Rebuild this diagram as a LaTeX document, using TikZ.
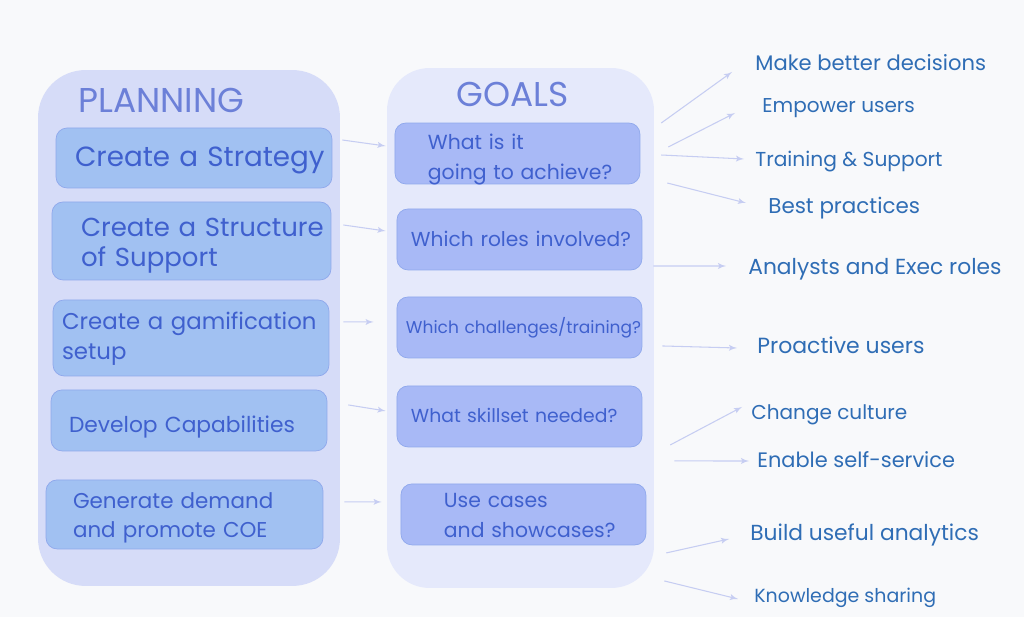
\documentclass[tikz,border=0pt]{standalone}
\usepackage{fontspec}
\setmainfont{Poppins}
\usetikzlibrary{arrows,positioning}
\definecolor{pagebg}{HTML}{F8F9FB}
\definecolor{planfill}{HTML}{D6DCF8}
\definecolor{goalfill}{HTML}{E5E9FB}
\definecolor{planbox}{HTML}{A1C1F2}
\definecolor{goalbox}{HTML}{A8B9F6}
\definecolor{boxline}{HTML}{8FA8EC}
\definecolor{boxtext}{HTML}{3F60CE}
\definecolor{titletext}{HTML}{6C80D8}
\definecolor{outtext}{HTML}{2F6DB5}
\definecolor{linkline}{HTML}{C6CDF2}
\newcommand{\padded}[3]{\raisebox{\dimexpr-#2-0.25em\relax}[0pt][0pt]{\begin{tabular}{@{\hspace*{#1}}l@{}}#3\end{tabular}}}

\begin{document}
\begin{tikzpicture}[
    x=0.02cm,
    y=-0.02cm,
    node distance=2cm,
    >=latex',
    fs/.style={
		font=\fontsize{#1}{17}\selectfont
	},
    panel/.style={
		rectangle,
		rounded corners=0.95cm,
		inner sep=0pt
	},
	order/.style={
		rectangle,
		rounded corners=0.22cm,
		draw=boxline,
		line width=0.4pt,
		inner sep=0pt,
		text=boxtext,
		align=left
	},
	plan/.style={
		order,
		fill=planbox
	},
	goal/.style={
		order,
		fill=goalbox,
		text width=4.9cm,
		minimum height=1.22cm
	},
	outcome/.style={
		anchor=west,
		inner sep=0pt,
		text=outtext,
		text height=0.4cm,
		text depth=0.06cm
	},
	title/.style={
		inner sep=0pt,
		text=titletext,
		fs=19.6
	},
	link/.style={
		draw=linkline,
		line width=0.6pt,
		->
	}
  ]
    % page and the two big panels
  \fill [pagebg] (0,0) rectangle (1024,617);
  \useasboundingbox (0,0) rectangle (1024,617);

  \node [panel, fill=planfill, minimum width=6.04cm, minimum height=10.32cm] (planning) at (189,328) {};
  \node [panel, fill=goalfill, minimum width=5.34cm, minimum height=10.4cm, rounded corners=0.85cm] (goals) at (520.5,328) {};

  \node [title] (planningtitle) at (161.5,100) {PLANNING};
  \node [title] (goalstitle) at (513,94) {GOALS};

    % planning blocks
  \node [plan, fs=15.8, text width=5.52cm, minimum height=1.2cm] (plan1) at (194,158)
 {%
 \padded{0.38cm}{0.04cm}{Create a Strategy}
 };

  \node [plan, fs=14.8, text width=5.58cm, minimum height=1.56cm, below of=plan1, node distance=1.66cm, xshift=-0.05cm] (plan2)
 {%
 \padded{0.58cm}{0.09cm}{Create a Structure\\of Support}
 };

  \node [plan, fs=13, text width=5.52cm, minimum height=1.52cm, below of=plan2, node distance=1.94cm, xshift=-0.01cm] (plan3)
 {%
 \padded{0.18cm}{0cm}{Create a gamification\\setup}
 };

  \node [plan, fs=12.4, text width=5.52cm, minimum height=1.22cm, below of=plan3, node distance=1.65cm, xshift=-0.04cm] (plan4)
 {%
 \padded{0.36cm}{0.12cm}{Develop Capabilities}
 };

  \node [plan, fs=12.2, text width=5.54cm, minimum height=1.38cm, below of=plan4, node distance=1.88cm, xshift=-0.09cm] (plan5)
 {%
 \padded{0.54cm}{0.05cm}{Generate demand\\and promote COE}
 };

    % goal blocks
  \node [goal, fs=11.6, right of=plan1, node distance=6.47cm, yshift=0.09cm] (goal1)
 {%
 \padded{0.66cm}{0.11cm}{What is it\\going to achieve?}
 };

  \node [goal, fs=11.5, below of=goal1, node distance=1.72cm, xshift=0.04cm] (goal2)
 {%
 \padded{0.28cm}{0.02cm}{Which roles involved?}
 };

  \node [goal, fs=9.7, below of=goal2, node distance=1.76cm] (goal3)
 {%
 \padded{0.18cm}{0cm}{Which challenges/training?}
 };

  \node [goal, fs=10.7, below of=goal3, node distance=1.78cm] (goal4)
 {%
 \padded{0.28cm}{0cm}{What skillset needed?}
 };

  \node [goal, fs=11.6, below of=goal4, node distance=1.96cm, xshift=0.08cm] (goal5)
 {%
 \padded{0.86cm}{0.05cm}{Use cases\\and showcases?}
 };

    % outcomes on the right
  \node [outcome, fs=12] (decisions) at (755,62) {Make better decisions};
  \node [outcome, fs=11.4] (empower) at (762,104) {Empower users};
  \node [outcome, fs=11.5] (training) at (755,158) {Training \& Support};
  \node [outcome, fs=12.2] (practices) at (768,205) {Best practices};
  \node [outcome, fs=12.4] (roles) at (748,266) {Analysts and Exec roles};
  \node [outcome, fs=12.5] (proactive) at (757,345) {Proactive users};
  \node [outcome, fs=11.4] (culture) at (751,411) {Change culture};
  \node [outcome, fs=11.9] (selfservice) at (757,459) {Enable self-service};
  \node [outcome, fs=12.4] (analytics) at (750,532) {Build useful analytics};
  \node [outcome, fs=10.8] (sharing) at (754,594) {Knowledge sharing};

    % planning to goals
  \draw [link] ([shift={(10,-18)}]plan1.east) -- ([shift={(-9,-7.5)}]goal1.west);
  \draw [link] ([shift={(12,-16)}]plan2.east) -- ([shift={(-11,-8.5)}]goal2.west);
  \draw [link] ([shift={(14,-16)}]plan3.east) -- ([shift={(-23,-5.5)}]goal3.west);
  \draw [link] ([shift={(21,-15.5)}]plan4.east) -- ([shift={(-11,-5.5)}]goal4.west);
  \draw [link] ([shift={(21,-12.5)}]plan5.east) -- ([shift={(-19,-12.5)}]goal5.west);

    % goals to outcomes
  \draw [link] ([shift={(21,-30.5)}]goal1.east) -- ([shift={(-23,10)}]decisions.west);
  \draw [link] ([shift={(28,-6.5)}]goal1.east) -- ([shift={(-27,9)}]empower.west);
  \draw [link] ([shift={(21,1.5)}]goal1.east) -- ([shift={(-11,1)}]training.west);
  \draw [link] ([shift={(27,29.5)}]goal1.east) -- ([shift={(-22,-2)}]practices.west);
  \draw [link] ([shift={(11,26.5)}]goal2.east) -- ([shift={(-22,0)}]roles.west);
  \draw [link] ([shift={(20,18.5)}]goal3.east) -- ([shift={(-20,3)}]proactive.west);
  \draw [link] ([shift={(28,28.5)}]goal4.east) -- ([shift={(-9,-4)}]culture.west);
  \draw [link] ([shift={(32,44.5)}]goal4.east) -- ([shift={(-8,2)}]selfservice.west);
  \draw [link] ([shift={(20,38.5)}]goal5.east) -- ([shift={(-21,7)}]analytics.west);
  \draw [link] ([shift={(18,66.5)}]goal5.east) -- ([shift={(-16,5)}]sharing.west);

\end{tikzpicture}
\end{document}
